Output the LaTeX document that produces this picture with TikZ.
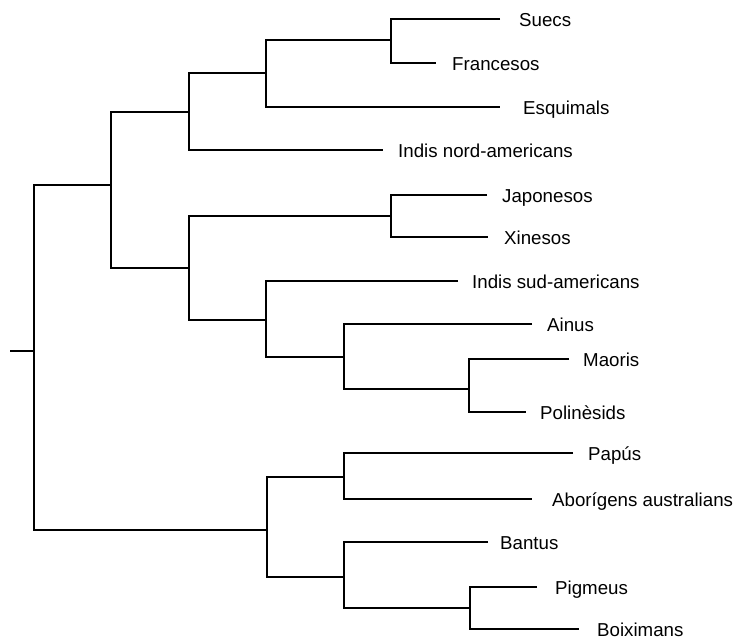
\documentclass[tikz,border=0pt]{standalone}
\usepackage{fontspec}
\setmainfont{Liberation Sans}
\tikzset{
  tree edge/.style={
    line width=1.1pt,
  },
  leaf label/.style={
    anchor=west,
    inner sep=0pt,
    text height=13.2pt,
    text depth=0pt,
    font=\fontsize{18.7}{22}\selectfont,
  },
}

\begin{document}
\begin{tikzpicture}[x=1pt, y=-1pt]
        \useasboundingbox (0,0) rectangle (738,640);

        % branch points
        \coordinate (stub) at (10,351);
        \coordinate (root) at (34,351);
        \coordinate (nA)   at (111,185);
        \coordinate (nB)   at (189,112);
        \coordinate (nC)   at (266,73);
        \coordinate (nSF)  at (391,40);
        \coordinate (nD)   at (189,268);
        \coordinate (nJX)  at (391,216);
        \coordinate (nE)   at (266,320);
        \coordinate (nF)   at (344,357);
        \coordinate (nMP)  at (469,389);
        \coordinate (nG)   at (267,530);
        \coordinate (nPA)  at (344,477);
        \coordinate (nH)   at (344,577);
        \coordinate (nPB)  at (470,608);

        % leaf ends
        \coordinate (suec) at (500,19);
        \coordinate (fran) at (436,63);
        \coordinate (esqu) at (500,107);
        \coordinate (inam) at (383,150);
        \coordinate (japo) at (487,195);
        \coordinate (xine) at (488,237);
        \coordinate (insa) at (458,281);
        \coordinate (ainu) at (532,324);
        \coordinate (maor) at (569,359);
        \coordinate (poli) at (526,412);
        \coordinate (papu) at (573,453);
        \coordinate (abor) at (532,499);
        \coordinate (bant) at (488,542);
        \coordinate (pigm) at (537,587);
        \coordinate (boix) at (579,629);

        \node[leaf label] (Lsuec) at (519,20)  {Suecs};
        \node[leaf label] (Lfran) at (452,64)  {Francesos};
        \node[leaf label] (Lesqu) at (523,108) {Esquimals};
        \node[leaf label] (Linam) at (398,151) {Indis nord-americans};
        \node[leaf label] (Ljapo) at (502,196) {Japonesos};
        \node[leaf label] (Lxine) at (504,238) {Xinesos};
        \node[leaf label] (Linsa) at (472,282) {Indis sud-americans};
        \node[leaf label] (Lainu) at (547,325) {Ainus};
        \node[leaf label] (Lmaor) at (583,360) {Maoris};
        \node[leaf label] (Lpoli) at (540,413) {Polinèsids};
        \node[leaf label] (Lpapu) at (588,454) {Papús};
        \node[leaf label] (Labor) at (552,500) {Aborígens australians};
        \node[leaf label] (Lbant) at (500,543) {Bantus};
        \node[leaf label] (Lpigm) at (555,588) {Pigmeus};
        \node[leaf label] (Lboix) at (597,630) {Boiximans};

        \draw[tree edge] (stub) -- (root);
        \draw[tree edge] (nA)   -| (root) |- (nG);
        \draw[tree edge] (nB)   -| (nA)   |- (nD);
        \draw[tree edge] (nC)   -| (nB)   |- (inam);
        \draw[tree edge] (nSF)  -| (nC)   |- (esqu);
        \draw[tree edge] (suec) -| (nSF)  |- (fran);
        \draw[tree edge] (nJX)  -| (nD)   |- (nE);
        \draw[tree edge] (japo) -| (nJX)  |- (xine);
        \draw[tree edge] (insa) -| (nE)   |- (nF);
        \draw[tree edge] (ainu) -| (nF)   |- (nMP);
        \draw[tree edge] (maor) -| (nMP)  |- (poli);
        \draw[tree edge] (nPA)  -| (nG)   |- (nH);
        \draw[tree edge] (papu) -| (nPA)  |- (abor);
        \draw[tree edge] (bant) -| (nH)   |- (nPB);
        \draw[tree edge] (pigm) -| (nPB)  |- (boix);
      \end{tikzpicture}
\end{document}
